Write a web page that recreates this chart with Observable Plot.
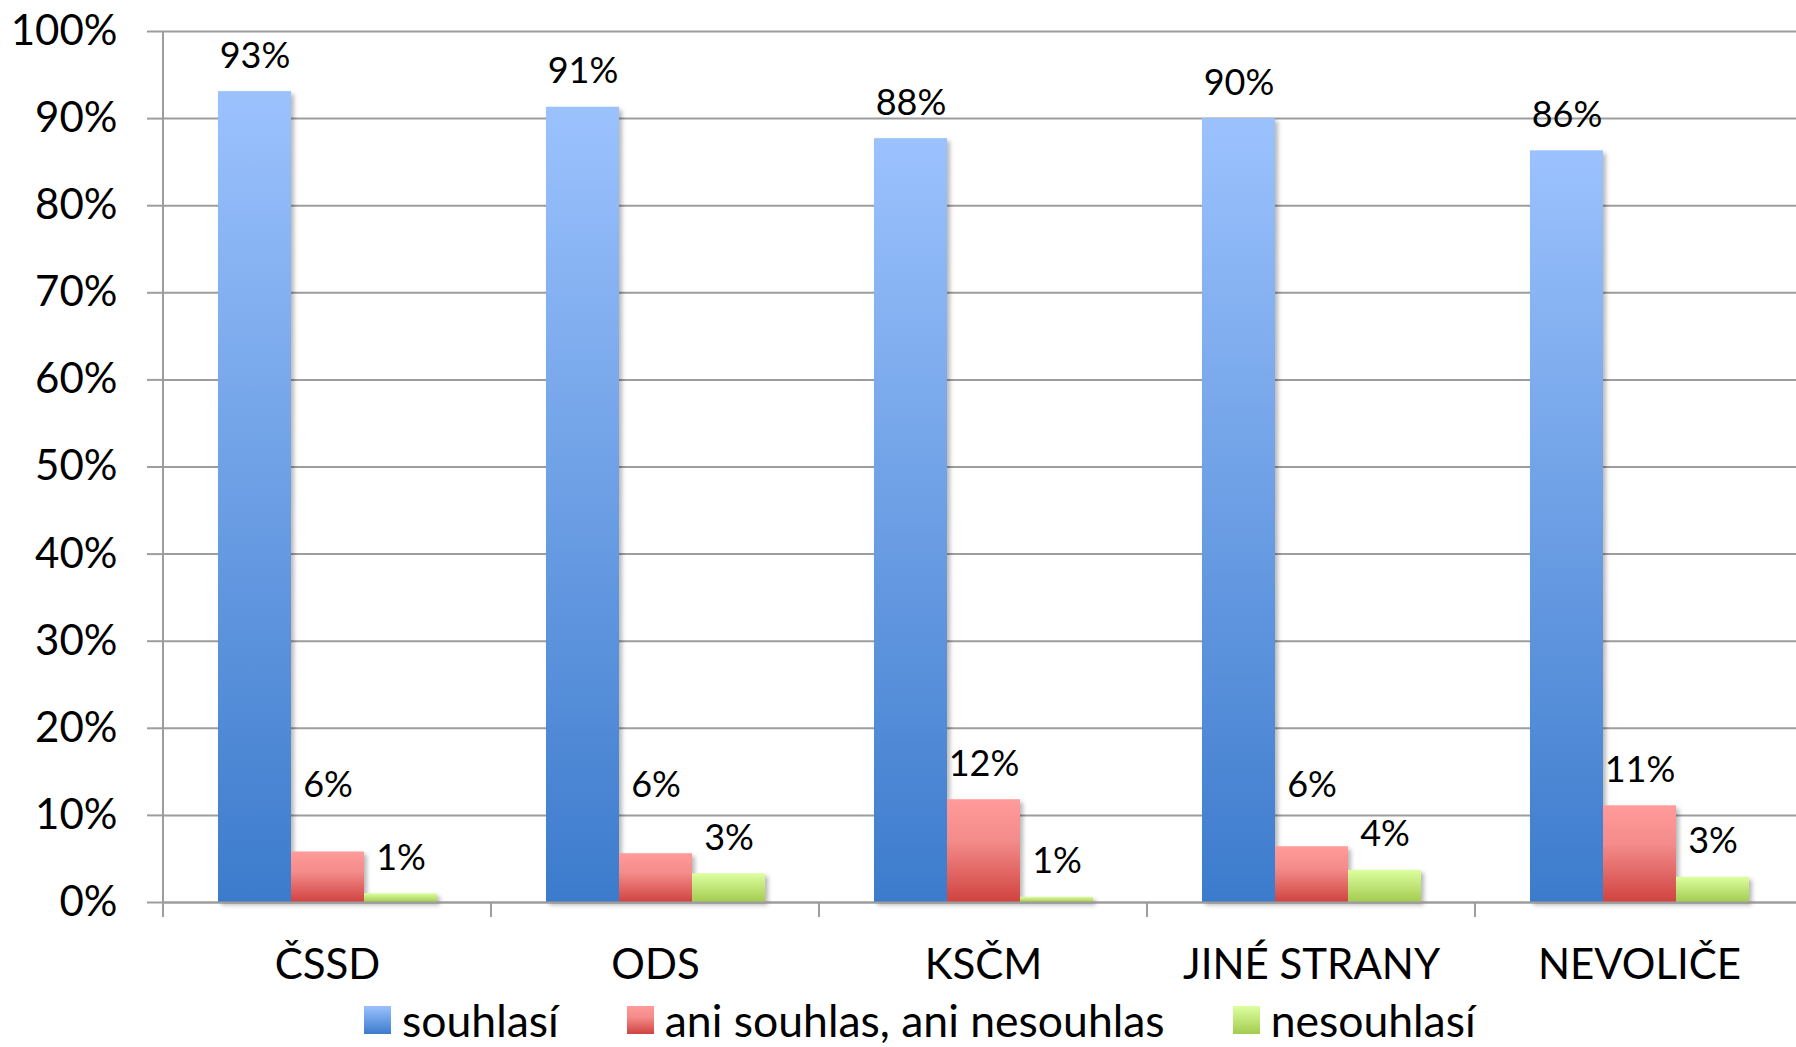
<!DOCTYPE html>
<html><head><meta charset="utf-8">
<script src="https://cdn.jsdelivr.net/npm/d3@7"></script>
<script src="https://cdn.jsdelivr.net/npm/@observablehq/plot@0.6"></script>
<style>
html,body{margin:0;padding:0;background:#fff;}
body{font-family:Lato,"DejaVu Sans",sans-serif;width:1796px;height:1047px;overflow:hidden;}
#legend{position:relative;height:52px;display:flex;align-items:flex-start;padding-left:364px;box-sizing:border-box;}
.item{display:flex;align-items:center;margin-right:68px;margin-top:5px;}
.sw{width:27px;height:28px;margin-right:11px;}
.lab{font-size:44.5px;line-height:40px;color:#000;}
</style></head><body>
<div id="chart"></div>
<div id="legend"></div>
<script>
const categories = ["ČSSD", "ODS", "KSČM", "JINÉ STRANY", "NEVOLIČE"];
const series = ["souhlasí", "ani souhlas, ani nesouhlas", "nesouhlasí"];
const souhlasi   = [0.931, 0.913, 0.877, 0.900, 0.863];
const ani        = [0.058, 0.056, 0.118, 0.064, 0.111];
const nesouhlasi = [0.010, 0.033, 0.006, 0.037, 0.029];
const yTicks = [0, 0.1, 0.2, 0.3, 0.4, 0.5, 0.6, 0.7, 0.8, 0.9, 1];
// the short middle-series labels sit no lower than this level in the reference
const midLabelFloor = 0.094;
const gradients = [
  {id: "gBlue",  stops: [["0%", "#9bc2fd"], ["100%", "#3c7bcc"]]},
  {id: "gRed",   stops: [["0%", "#ff9b9a"], ["40%", "#f38c8a"], ["100%", "#d04340"]]},
  {id: "gGreen", stops: [["0%", "#ddff9f"], ["100%", "#a3cb50"]]}
];

const valuesBySeries = [souhlasi, ani, nesouhlasi];
const rows = [];
categories.forEach((c, i) => series.forEach((s, j) => rows.push({category: c, series: s, value: valuesBySeries[j][i]})));

const W = 1796, H = 995;
const grid = "#9d9d9d";
const pct = d3.format(".0%");
const labelY = d => d.series === series[1] ? Math.max(d.value, midLabelFloor) : d.value;

const plot = Plot.plot({
  width: W, height: H,
  marginLeft: 162, marginRight: -8, marginTop: 31, marginBottom: 93,
  style: {fontFamily: "Lato, sans-serif", color: "#000", background: "#fff", overflow: "hidden"},
  fx: {domain: categories, padding: 0, label: null},
  x: {domain: series, paddingInner: 0, paddingOuter: 0.72, axis: null},
  y: {domain: [0, 1], label: null},
  color: {domain: series, range: gradients.map(g => `url(#${g.id})`)},
  marks: [
    Plot.ruleY(yTicks, {stroke: grid, strokeWidth: 2}),
    Plot.axisY({ticks: yTicks, tickFormat: pct, tickSize: 16, tickPadding: 30, fontSize: 42, stroke: grid, strokeWidth: 2, label: null}),
    Plot.axisFx({anchor: "bottom", tickSize: 0, tickPadding: 47, fontSize: 42, label: null}),
    Plot.barY(rows, {fx: "category", x: "series", y: "value", fill: "series",
      imageFilter: "drop-shadow(3px 3px 2px rgba(0,0,0,0.28))"}),
    Plot.ruleY([0], {stroke: grid, strokeWidth: 2}),
    Plot.text(rows, {fx: "category", x: "series", y: labelY, text: d => pct(d.value),
      dy: -24, lineAnchor: "bottom", fontSize: 36, fill: "#000"})
  ]
});

// gradient definitions
const svg = d3.select(plot);
const defs = svg.insert("defs", ":first-child");
gradients.forEach(g => {
  const lg = defs.append("linearGradient").attr("id", g.id).attr("x1", 0).attr("y1", 0).attr("x2", 0).attr("y2", 1);
  g.stops.forEach(([o, c]) => lg.append("stop").attr("offset", o).attr("stop-color", c));
});

// axis line and category boundary ticks from the plot's own scales
const fx = plot.scale("fx"), y = plot.scale("y");
const g = svg.append("g").attr("stroke", grid).attr("stroke-width", 2);
const yTop = y.apply(1), yBase = y.apply(0);
g.append("line").attr("x1", fx.apply(categories[0])).attr("x2", fx.apply(categories[0]))
  .attr("y1", yTop).attr("y2", yBase + 15);
categories.forEach(c => {
  const x0 = fx.apply(c);
  g.append("line").attr("x1", x0).attr("x2", x0).attr("y1", yBase).attr("y2", yBase + 15);
});

document.getElementById("chart").appendChild(plot);

// legend
const legend = d3.select("#legend");
series.forEach((s, j) => {
  const it = legend.append("div").attr("class", "item");
  const st = gradients[j].stops.map(([o, c]) => `${c} ${o}`).join(",");
  it.append("div").attr("class", "sw").style("background", `linear-gradient(to bottom, ${st})`);
  it.append("div").attr("class", "lab").text(s);
});
</script>
</body></html>
